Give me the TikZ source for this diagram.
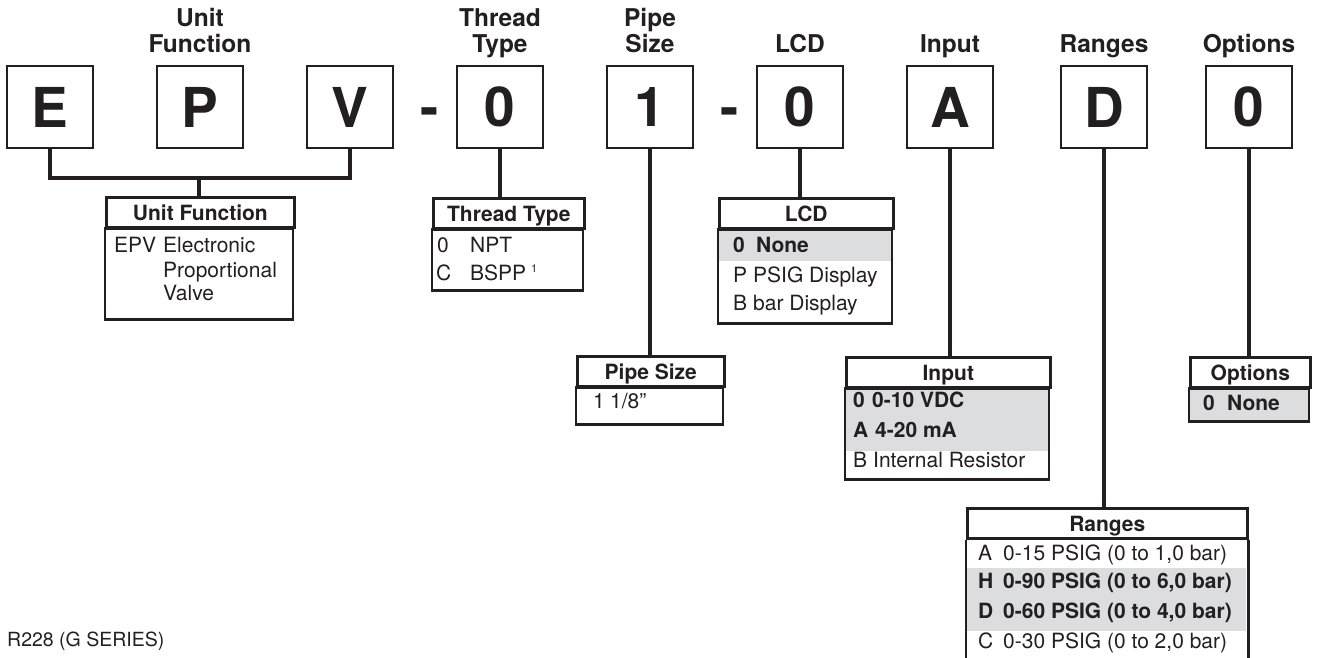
\documentclass[tikz,border=0pt]{standalone}
\usepackage{fontspec}
\setmainfont{TeX Gyre Heros}
\usetikzlibrary{positioning}
\definecolor{ink}{HTML}{231F20}
\definecolor{rowgray}{HTML}{DCDDDE}

\begin{document}
\begin{tikzpicture}[x=1pt, y=-1pt, node distance=150pt, color=ink]
    \tikzstyle{letterbox}=[draw, line width=2.8pt, minimum width=86pt, minimum height=82pt, inner sep=0pt, font=\fontsize{55}{60}\selectfont\bfseries]
    \tikzstyle{hyph}=[inner sep=0pt, anchor=base, font=\fontsize{55}{60}\selectfont\bfseries]
    \tikzstyle{lbl}=[inner sep=0pt, align=center, text depth=0pt, font=\fontsize{24.5}{25.5}\selectfont\bfseries]
    \tikzstyle{hdr}=[draw, line width=2.6pt, minimum height=30pt, inner sep=0pt, anchor=north west, text height=20pt, text depth=4pt, font=\fontsize{21}{24}\selectfont\bfseries]
    \tikzstyle{cell}=[inner sep=0pt, anchor=base west, font=\fontsize{21}{24}\selectfont]
    \tikzstyle{bcell}=[cell, font=\fontsize{21}{24}\selectfont\bfseries]
    \tikzstyle{tblline}=[line width=2.6pt]
    \tikzstyle{stem}=[line width=3.4pt]
    \tikzstyle{grayrow}=[fill=rowgray]

    \useasboundingbox (0,0) rectangle (1317,658);

    % model number
    \node[letterbox] (e) at (50,107) {E};
    \node[letterbox, right of=e] (p) {P};
    \node[letterbox, right of=p] (v) {V};
    \node[letterbox, right of=v] (thread) {0};
    \node[letterbox, right of=thread] (pipe) {1};
    \node[letterbox, right of=pipe] (lcd) {0};
    \node[letterbox, right of=lcd] (input) {A};
    \node[letterbox, right of=input, xshift=4pt] (ranges) {D};
    \node[letterbox, right of=ranges, xshift=-5pt] (options) {0};
    \node[hyph] (dash1) at (430,127) {-};
    \node[hyph] (dash2) at (730,127) {-};

    \node[lbl, above=12pt of p] (pLbl) {Unit\\Function};
    \node[lbl, above=12pt of thread] (threadLbl) {Thread\\Type};
    \node[lbl, above=12pt of pipe] (pipeLbl) {Pipe\\Size};
    \node[lbl, above=12pt of lcd] (lcdLbl) {LCD};
    \node[lbl, above=12pt of input] (inputLbl) {Input};
    \node[lbl, above=12pt of ranges] (rangesLbl) {Ranges};
    \node[lbl, above=12pt of options] (optionsLbl) {Options};

    % unit function
    \node[hdr, minimum width=188pt] (unitT) at (105,196) {Unit Function};
    \draw[tblline] (unitT.south west) rectangle ++(188,91);
    \node[cell] (epv) at (114,252) {EPV};
    \node[cell] (epv1) at (163,252) {Electronic};
    \node[cell] (epv2) at (163,277) {Proportional};
    \node[cell] (epv3) at (163,300) {Valve};
    \coordinate (ufork) at (199,178);
    \draw[stem] (e.south) |- (ufork) -| (v.south);
    \draw[stem] (ufork) -- (ufork |- unitT.north);

    % thread type
    \node[hdr, minimum width=151pt] (threadT) at (432,197) {Thread Type};
    \draw[tblline] (threadT.south west) rectangle ++(151,61);
    \node[cell] (t0) at (437,252) {0};
    \node[cell] (t0a) at (470,252) {NPT};
    \node[cell] (tc) at (436,280) {C};
    \node[cell] (tca) at (470,280) {BSPP\hspace{5pt}\raisebox{8pt}{\fontsize{11}{12}\selectfont 1}};
    \draw[stem] (thread.south) -- (thread.south |- threadT.north);

    % pipe size
    \node[hdr, minimum width=147pt] (pipeT) at (576,355) {Pipe Size};
    \draw[tblline] (pipeT.south west) rectangle ++(147,37);
    \node[cell] (s1) at (593,408) {1};
    \node[cell] (s1a) at (610,408) {1/8”};
    \draw[stem] (pipe.south) -- (pipe.south |- pipeT.north);

    % lcd
    \node[hdr, minimum width=174pt] (lcdT) at (718,197) {LCD};
    \fill[grayrow] (lcdT.south west) rectangle ++(174,31);
    \draw[tblline] (lcdT.south west) rectangle ++(174,94);
    \node[bcell] (l0) at (733,252) {0};
    \node[bcell] (l0a) at (756,252) {None};
    \node[cell] (lp) at (733,282) {P};
    \node[cell] (lpa) at (753,282) {PSIG Display};
    \node[cell] (lb) at (733,310) {B};
    \node[cell] (lba) at (753,310) {bar Display};
    \draw[stem] (lcd.south) -- (lcd.south |- lcdT.north);

    % input
    \node[hdr, minimum width=204pt] (inputT) at (845,356) {Input};
    \fill[grayrow] (inputT.south west) rectangle ++(204,62);
    \draw[tblline] (inputT.south west) rectangle ++(204,91);
    \node[bcell] (i0) at (853,407) {0};
    \node[bcell] (i0a) at (872,407) {0-10 VDC};
    \node[bcell] (ia) at (853,437) {A};
    \node[bcell] (iaa) at (875,437) {4-20 mA};
    \node[cell] (ib) at (853,467) {B};
    \node[cell] (iba) at (873,467) {Internal Resistor};
    \draw[stem] (input.south) -- (input.south |- inputT.north);

    % ranges
    \node[hdr, minimum width=280pt] (rangesT) at (966,507) {Ranges};
    \fill[grayrow] ([yshift=-28pt]rangesT.south west) rectangle ++(280,63);
    \draw[tblline] (rangesT.south west) -- ++(0,125) (rangesT.south east) -- ++(0,125);
    \node[cell] (ra) at (978,560) {A};
    \node[cell] (raa) at (1003,560) {0-15 PSIG (0 to 1,0 bar)};
    \node[bcell] (rh) at (978,588) {H};
    \node[bcell] (rha) at (1003,588) {0-90 PSIG (0 to 6,0 bar)};
    \node[bcell] (rd) at (978,618) {D};
    \node[bcell] (rda) at (1003,618) {0-60 PSIG (0 to 4,0 bar)};
    \node[cell] (rc) at (978,648) {C};
    \node[cell] (rca) at (1003,648) {0-30 PSIG (0 to 2,0 bar)};
    \draw[stem] (ranges.south) -- (ranges.south |- rangesT.north);

    % options
    \node[hdr, minimum width=120pt] (optionsT) at (1189,356) {Options};
    \fill[grayrow] (optionsT.south west) rectangle ++(120,33);
    \draw[tblline] (optionsT.south west) rectangle ++(120,33);
    \node[bcell] (o0) at (1203,410) {0};
    \node[bcell] (o0a) at (1227,410) {None};
    \draw[stem] (options.south) -- (options.south |- optionsT.north);

    \node[cell, font=\fontsize{19.5}{22}\selectfont] (series) at (7,646) {R228 (G SERIES)};
\end{tikzpicture}
\end{document}
